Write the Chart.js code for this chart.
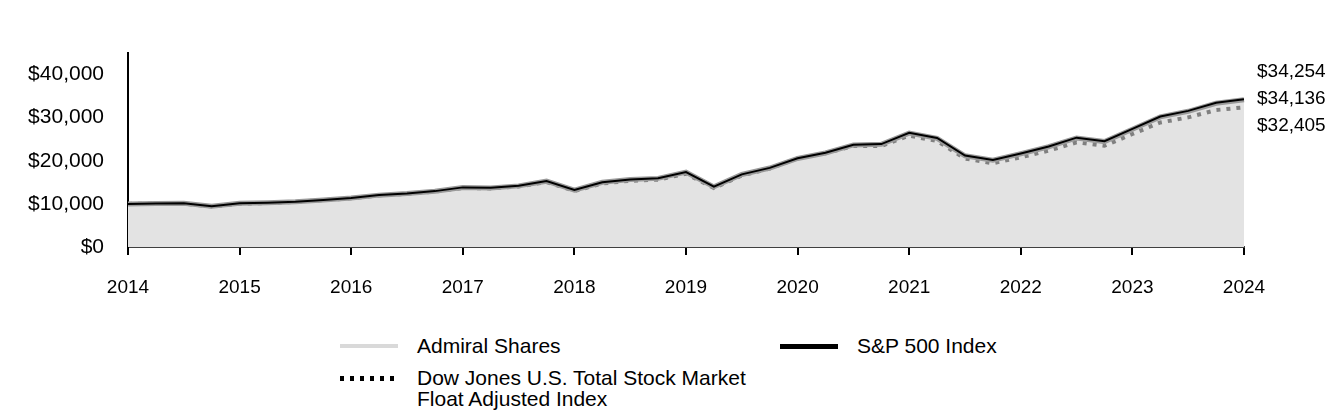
<!DOCTYPE html>
<html>
<head>
<meta charset="utf-8">
<script src="https://cdn.jsdelivr.net/npm/chart.js@4.4.1/dist/chart.umd.min.js"></script>
<style>
body { margin: 0; background: #fff; font-family: "Liberation Sans", Arial, sans-serif; }
#wrap { position: relative; width: 1344px; height: 420px; overflow: hidden; }
#chart { position: absolute; left: 0; top: 0; }
.key { position: absolute; width: 58px; }
.txt { position: absolute; font-size: 21px; line-height: 21px; color: #000; white-space: nowrap; }
</style>
</head>
<body>
<div id="wrap">
  <canvas id="chart" width="1344" height="300"></canvas>
  <div class="key" style="left:340px; top:344px; height:4px; background:#d9d9d9;"></div>
  <div class="txt" style="left:417px; top:335px;">Admiral Shares</div>
  <div class="key" style="left:780px; top:344px; height:5px; background:#000;"></div>
  <div class="txt" style="left:857px; top:335px;">S&amp;P 500 Index</div>
  <div class="key" style="left:340px; top:376px; height:5px; background:repeating-linear-gradient(90deg, #000 0 4px, transparent 4px 10px);"></div>
  <div class="txt" style="left:417px; top:367px;">Dow Jones U.S. Total Stock Market<br>Float Adjusted Index</div>
</div>
<script>
// quarter ends, Dec 2014 .. Dec 2024
const quarters = [
    "Dec 2014", "Mar 2015", "Jun 2015", "Sep 2015", "Dec 2015", "Mar 2016", "Jun 2016", "Sep 2016",
    "Dec 2016", "Mar 2017", "Jun 2017", "Sep 2017", "Dec 2017", "Mar 2018", "Jun 2018", "Sep 2018",
    "Dec 2018", "Mar 2019", "Jun 2019", "Sep 2019", "Dec 2019", "Mar 2020", "Jun 2020", "Sep 2020",
    "Dec 2020", "Mar 2021", "Jun 2021", "Sep 2021", "Dec 2021", "Mar 2022", "Jun 2022", "Sep 2022",
    "Dec 2022", "Mar 2023", "Jun 2023", "Sep 2023", "Dec 2023", "Mar 2024", "Jun 2024", "Sep 2024",
    "Dec 2024"
];
const yearLabels = ["2014", "2015", "2016", "2017", "2018", "2019", "2020", "2021", "2022", "2023", "2024"];
const yTicks = [0, 10000, 20000, 30000, 40000];

const admiral = [
    10000, 10094, 10121, 9469, 10135, 10271, 10519, 10921,
    11343, 12031, 12397, 12950, 13815, 13709, 14176, 15267,
    13204, 15005, 15649, 15916, 17356, 13954, 16819, 18320,
    20542, 21808, 23677, 23813, 26430, 25215, 21155, 20119,
    21636, 23257, 25288, 24455, 27312, 30179, 31476, 33326,
    34136
];
const sp500 = [
    10000, 10095, 10123, 9471, 10139, 10275, 10524, 10928,
    11351, 12040, 12408, 12962, 13829, 13724, 14193, 15287,
    13222, 15027, 15673, 15942, 17386, 13979, 16851, 18356,
    20585, 21855, 23730, 23868, 26494, 25278, 21210, 20173,
    21696, 23323, 25362, 24529, 27397, 30275, 31578, 33437,
    34254
];
const djTotal = [
    10000, 10075, 10072, 9386, 10041, 10193, 10461, 10873,
    11306, 11980, 12334, 12871, 13705, 13587, 14037, 15073,
    12984, 14741, 15360, 15607, 16986, 13671, 16581, 18209,
    20564, 21724, 23445, 23438, 25845, 24570, 20510, 19427,
    20806, 22343, 24271, 23474, 26205, 28882, 30062, 31765,
    32405
];
const endLabels = ["$34,254", "$34,136", "$32,405"];

const FONT = "'Liberation Sans', Arial, sans-serif";

const endLabelPlugin = {
    id: "endLabels",
    afterDraw(chart) {
        const ctx = chart.ctx;
        const area = chart.chartArea;
        ctx.save();
        ctx.font = "19px " + FONT;
        ctx.fillStyle = "#000";
        ctx.textAlign = "left";
        ctx.textBaseline = "middle";
        endLabels.forEach((t, i) => {
            ctx.fillText(t, area.right + 13, area.top + 19 + i * 27);
        });
        ctx.restore();
    }
};

new Chart("chart", {
    type: "line",
    data: {
        labels: quarters,
        datasets: [
            {
                label: "S&P 500 Index",
                data: sp500,
                borderColor: "#000",
                borderWidth: 2,
                pointRadius: 0,
                fill: false,
                order: 1
            },
            {
                label: "Admiral Shares",
                data: admiral,
                borderColor: "#9a9a9a",
                borderWidth: 5,
                backgroundColor: "#e3e3e3",
                pointRadius: 0,
                fill: "origin",
                order: 2
            },
            {
                label: "Dow Jones U.S. Total Stock Market Float Adjusted Index",
                data: djTotal,
                borderColor: "#808080",
                borderWidth: 4,
                borderDash: [4, 6],
                pointRadius: 0,
                fill: false,
                order: 3
            }
        ]
    },
    options: {
        responsive: false,
        animation: false,
        devicePixelRatio: 1,
        layout: { padding: { left: 0, right: 100, top: 53, bottom: 0 } },
        plugins: {
            legend: { display: false },
            tooltip: { enabled: false },
            filler: { drawTime: "beforeDatasetsDraw" }
        },
        scales: {
            x: {
                type: "category",
                offset: false,
                afterBuildTicks: s => { s.ticks = s.ticks.filter(t => t.value % 4 === 0); },
                afterFit: s => { s.height = 53; },
                grid: { display: true, drawOnChartArea: false, drawTicks: true, tickLength: 8, color: "#000", lineWidth: 2 },
                border: { display: true, color: "#404040", width: 2 },
                ticks: {
                    autoSkip: false,
                    maxRotation: 0,
                    padding: 21,
                    color: "#000",
                    font: { family: FONT, size: 19 },
                    callback: (value) => yearLabels[value / 4]
                }
            },
            y: {
                min: 0,
                max: 45000,
                afterBuildTicks: s => { s.ticks = yTicks.map(v => ({ value: v })); },
                afterFit: s => { s.width = 128; },
                grid: { display: false, drawTicks: false, tickLength: 0 },
                border: { display: true, color: "#000", width: 2 },
                ticks: {
                    autoSkip: false,
                    padding: 24,
                    color: "#000",
                    font: { family: FONT, size: 21 },
                    callback: (v) => "$" + v.toLocaleString("en-US")
                }
            }
        }
    },
    plugins: [endLabelPlugin]
});
</script>
</body>
</html>
